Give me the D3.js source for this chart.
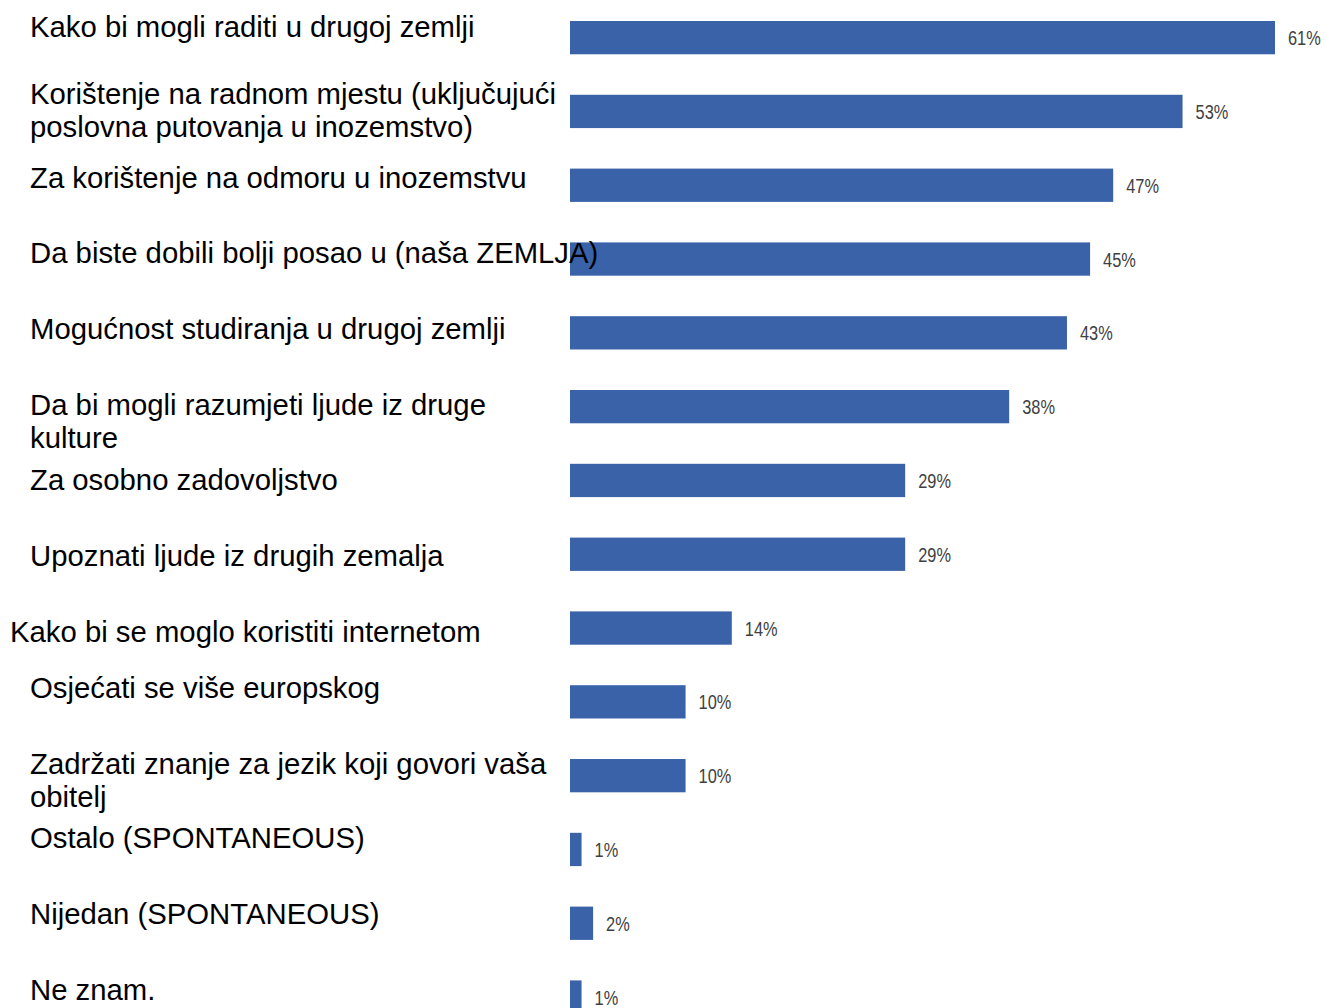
<!DOCTYPE html>
<html><head><meta charset="utf-8">
<script src="https://cdn.jsdelivr.net/npm/d3@7"></script>
<style>body{margin:0;background:#fff}svg{display:block}</style>
</head><body><svg id="c" width="1325" height="1008"></svg>
<script>
const categories = [
  ["Kako bi mogli raditi u drugoj zemlji"],
  ["Korištenje na radnom mjestu (uključujući", "poslovna putovanja u inozemstvo)"],
  ["Za korištenje na odmoru u inozemstvu"],
  ["Da biste dobili bolji posao u (naša ZEMLJA)"],
  ["Mogućnost studiranja u drugoj zemlji"],
  ["Da bi mogli razumjeti ljude iz druge", "kulture"],
  ["Za osobno zadovoljstvo"],
  ["Upoznati ljude iz drugih zemalja"],
  ["Kako bi se moglo koristiti internetom"],
  ["Osjećati se više europskog"],
  ["Zadržati znanje za jezik koji govori vaša", "obitelj"],
  ["Ostalo (SPONTANEOUS)"],
  ["Nijedan (SPONTANEOUS)"],
  ["Ne znam."]
];
const values = [61, 53, 47, 45, 43, 38, 29, 29, 14, 10, 10, 1, 2, 1];
const valueLabels = ["61%","53%","47%","45%","43%","38%","29%","29%","14%","10%","10%","1%","2%","1%"];

// layout (not data): label baseline nudges relative to bar top, and label x
const labelNudge = [16, 9, 19, 21, 23, 25, 26, 28, 31, 13, 15, 15, 17, 20];
const labelX = [30,30,30,30,30,30,30,30,10,30,30,30,30,30];

const svg = d3.select("#c");
const idx = d3.range(values.length);
const y = d3.scaleBand().domain(idx).range([21, 1013.7]).paddingInner(0.549).paddingOuter(0);
const x = d3.scaleLinear().domain([0, 61]).range([570, 1275]);

svg.selectAll("rect.bar").data(idx).join("rect")
  .attr("class","bar")
  .attr("x", x(0)).attr("y", i => y(i))
  .attr("width", i => x(values[i]) - x(0))
  .attr("height", y.bandwidth())
  .attr("fill", "#3A62A9");

svg.selectAll("text.val").data(idx).join("text")
  .attr("class","val")
  .attr("transform", i => `translate(${x(values[i]) + 13},${y(i) + y.bandwidth()/2 + 7.5}) scale(0.84,1)`)
  .attr("font-family", "'Liberation Sans',Arial,sans-serif")
  .attr("font-size", 19.5)
  .attr("fill", "#404040")
  .text(i => valueLabels[i]);

const lab = svg.selectAll("text.lab").data(idx).join("text")
  .attr("class","lab")
  .attr("font-family", "'Liberation Sans',Arial,sans-serif")
  .attr("font-size", 29.3)
  .attr("fill", "#000")
  .attr("y", i => y(i) + labelNudge[i]);
lab.selectAll("tspan").data(i => categories[i].map(t => ({t, i}))).join("tspan")
  .attr("x", d => labelX[d.i])
  .attr("dy", (d, k) => k === 0 ? 0 : 33)
  .text(d => d.t);
</script></body></html>
